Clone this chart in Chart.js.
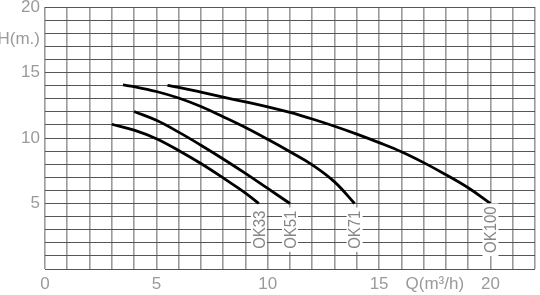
<!DOCTYPE html>
<html><head><meta charset="utf-8">
<script src="https://cdn.jsdelivr.net/npm/chart.js@4"></script>
<style>html,body{margin:0;padding:0;background:#fff;overflow:hidden}</style>
</head><body>
<canvas id="c" width="540" height="295"></canvas>
<script>
// ---- data ----
const seriesNames = ['OK33', 'OK51', 'OK71', 'OK100'];
const ok33Q  = [3, 4, 5, 6, 7, 8, 9, 9.6];
const ok33H  = [11.05, 10.6, 9.95, 9.05, 8.05, 6.95, 5.8, 5];
const ok51Q  = [4, 5, 6, 7, 8, 9, 10, 11];
const ok51H  = [12.02, 11.35, 10.45, 9.45, 8.4, 7.3, 6.15, 5];
const ok71Q  = [3.5, 4, 5, 6, 7, 8, 9, 10, 11, 12, 13, 13.9];
const ok71H  = [14.05, 13.92, 13.55, 13.05, 12.4, 11.62, 10.8, 9.9, 8.95, 7.95, 6.65, 5];
const ok100Q = [5.5, 6, 7, 8, 9, 10, 11, 12, 13, 14, 15, 16, 17, 18, 19, 20];
const ok100H = [14.02, 13.87, 13.5, 13.12, 12.75, 12.38, 11.95, 11.45, 10.9, 10.3, 9.65, 8.95, 8.12, 7.2, 6.2, 5];

const xTickValues = [0,1,2,3,4,5,6,7,8,9,10,11,12,13,14,15,16,17,17.5,18,19,20,21,22];
const xTickLabels = {0:'0', 5:'5', 10:'10', 15:'15', 17.5:'Q(m³/h)', 20:'20'};
const yTickValues = [0,1,2,3,4,5,6,7,8,9,10,11,12,13,14,15,16,17,17.5,18,19,20];
const yTickLabels = {5:'5', 10:'10', 15:'15', 17.5:'H(m.)', 20:'20'};
const curveLabelH = 3.0; // head value at which the model names are centred

const qs = [ok33Q, ok51Q, ok71Q, ok100Q];
const hs = [ok33H, ok51H, ok71H, ok100H];

const datasets = seriesNames.map((name, i) => ({
  label: name,
  data: qs[i].map((q, j) => ({x: q, y: hs[i][j]})),
  borderColor: '#000',
  borderWidth: 2.8,
  pointRadius: 0,
  fill: false,
  showLine: true,
  tension: 0.4,
  borderCapStyle: 'butt'
}));

const curveLabels = {
  id: 'curveLabels',
  afterDatasetsDraw(chart) {
    const {ctx, scales: {x, y}} = chart;
    chart.data.datasets.forEach(ds => {
      const last = ds.data[ds.data.length - 1];
      const px = x.getPixelForValue(last.x);
      const py = y.getPixelForValue(curveLabelH);
      ctx.save();
      ctx.translate(px, py);
      ctx.rotate(-Math.PI / 2);
      ctx.font = '17px "Liberation Sans", Arial, sans-serif';
      const sx = 0.88;
      const w = ctx.measureText(ds.label).width * sx;
      ctx.fillStyle = '#fff';
      ctx.fillRect(-w / 2 - 3, -8, w + 6, 16);
      ctx.scale(sx, 1);
      ctx.fillStyle = '#858585';
      ctx.textAlign = 'center';
      ctx.textBaseline = 'middle';
      ctx.fillText(ds.label, 0, 1);
      ctx.restore();
    });
  }
};

const tickFont = {family: '"Liberation Sans", Arial, sans-serif', size: 17};

new Chart(document.getElementById('c'), {
  type: 'scatter',
  data: {datasets},
  options: {
    responsive: false,
    animation: false,
    devicePixelRatio: 1,
    layout: {padding: {top: 7, right: 5, left: 0, bottom: 0}},
    plugins: {legend: {display: false}, tooltip: {enabled: false}},
    scales: {
      x: {
        type: 'linear', min: 0, max: 22,
        afterBuildTicks: s => { s.ticks = xTickValues.map(v => ({value: v})); },
        afterFit: s => { s.height = 26; s.paddingLeft = 0; s.paddingRight = 0; },
        ticks: {
          autoSkip: false, maxRotation: 0, minRotation: 0, padding: 5,
          color: '#9a9a9a', font: tickFont,
          callback: v => (xTickLabels[v] !== undefined ? xTickLabels[v] : '')
        },
        grid: {
          drawTicks: false,
          color: c => (c.tick && c.tick.value === 17.5 ? 'rgba(0,0,0,0)' : '#9a9a9a'),
          lineWidth: 1.6
        },
        border: {display: false}
      },
      y: {
        type: 'linear', min: 0, max: 20,
        afterBuildTicks: s => { s.ticks = yTickValues.map(v => ({value: v})); },
        afterFit: s => { s.width = 45; s.paddingTop = 0; s.paddingBottom = 0; },
        ticks: {
          autoSkip: false, padding: 5,
          color: '#9a9a9a', font: tickFont,
          callback: v => (yTickLabels[v] !== undefined ? yTickLabels[v] : '')
        },
        grid: {
          drawTicks: false,
          color: c => (c.tick && c.tick.value === 17.5 ? 'rgba(0,0,0,0)' : '#555'),
          lineWidth: 1
        },
        border: {display: false}
      }
    }
  },
  plugins: [curveLabels]
});
</script>
</body></html>
